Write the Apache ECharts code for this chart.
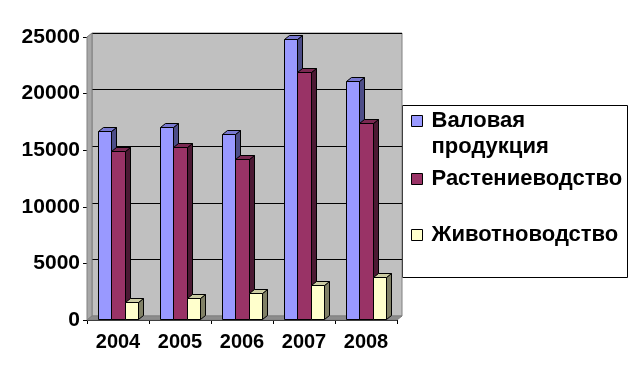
<!DOCTYPE html>
<html>
<head>
<meta charset="utf-8">
<script src="https://cdn.jsdelivr.net/npm/echarts@6/dist/echarts.min.js"></script>
<style>html,body{margin:0;padding:0;background:#fff}#c{width:633px;height:380px}</style>
</head>
<body>
<div id="c"></div>
<script>
var categories = ['2004', '2005', '2006', '2007', '2008'];
var seriesNames = ['Валовая продукция', 'Растениеводство', 'Животноводство'];
var valovaya = [16700, 17050, 16450, 24850, 21100];
var rastenie = [14950, 15250, 14200, 21900, 17400];
var zhivotno = [1550, 1950, 2350, 3100, 3800];
var yTicks = [0, 5000, 10000, 15000, 20000, 25000];

var FONT = 'Arial, "Liberation Sans", sans-serif';
var DX = 5, DY = 4;
var palette = [
  {front: '#9999FF', top: '#7878D0', side: '#4D4D88'},
  {front: '#993366', top: '#7A2952', side: '#4C1933'},
  {front: '#FFFFCC', top: '#CCCCA3', side: '#808066'}
];

function barRender(s) {
  return function (params, api) {
    var i = api.value(0), v = api.value(1);
    var base = api.coord([i, 0]);
    var top = api.coord([i, v]);
    var band = api.size([1, 0])[0];
    var w = band * 0.22;
    var x0 = Math.round(base[0] - 1.5 * w + s * w) + 0.5;
    var x1 = Math.round(base[0] - 1.5 * w + (s + 1) * w) + 0.5;
    var yt = Math.round(top[1]) + 0.5, yb = Math.round(base[1]) - 0.5;
    var c = palette[s];
    var st = {stroke: '#000', lineWidth: 1};
    return {
      type: 'group',
      children: [
        {type: 'polygon', shape: {points: [[x1, yt], [x1 + DX, yt - DY], [x1 + DX, yb - DY], [x1, yb]]},
          style: Object.assign({fill: c.side}, st)},
        {type: 'polygon', shape: {points: [[x0, yt], [x0 + DX, yt - DY], [x1 + DX, yt - DY], [x1, yt]]},
          style: Object.assign({fill: c.top}, st)},
        {type: 'rect', shape: {x: x0, y: yt, width: x1 - x0, height: yb - yt},
          style: Object.assign({fill: c.front}, st)}
      ]
    };
  };
}

function frameRender(params, api) {
  var band = api.size([1, 0])[0];
  var b0 = api.coord([0, 0]);
  var b4 = api.coord([categories.length - 1, 0]);
  var tp = api.coord([0, yTicks[yTicks.length - 1]]);
  var x0 = b0[0] - band / 2, x1 = b4[0] + band / 2;
  var y0 = b0[1], yt = tp[1];
  return {
    type: 'group',
    children: [
      {type: 'polygon', shape: {points: [[x0, yt], [x0 + DX, yt - DY], [x0 + DX, y0 - DY], [x0, y0]]},
        style: {fill: '#A8A8A8', stroke: '#808080', lineWidth: 1}},
      {type: 'polygon', shape: {points: [[x0, y0], [x0 + DX, y0 - DY], [x1 + DX, y0 - DY], [x1, y0]]},
        style: {fill: '#8C8C8C', stroke: '#808080', lineWidth: 1}}
    ]
  };
}

function toData(arr) { return arr.map(function (v, i) { return [i, v]; }); }
var allData = [valovaya, rastenie, zhivotno];

var series = [{
  type: 'custom', name: 'frame', xAxisIndex: 0, yAxisIndex: 0, z: 1,
  renderItem: frameRender, data: [[0, 0]], silent: true
}];
for (var s = 0; s < 3; s++) {
  series.push({
    type: 'custom', name: seriesNames[s], xAxisIndex: 0, yAxisIndex: 0, z: 2 + s,
    itemStyle: {color: palette[s].front},
    renderItem: barRender(s), encode: {x: 0, y: 1},
    data: toData(allData[s])
  });
}

var legendCommon = {
  orient: 'vertical', left: 411, padding: 0, icon: 'rect', itemWidth: 11, itemHeight: 11,
  itemStyle: {borderColor: '#000', borderWidth: 1}, selectedMode: false
};
function lg(name, top) {
  return Object.assign({}, legendCommon, {
    data: [name], top: top,
    textStyle: {fontFamily: FONT, fontWeight: 'bold', fontSize: 22, color: '#000', lineHeight: 26, padding: [0, 0, 0, 4]}
  });
}

var option = {
  backgroundColor: '#fff',
  animation: false,
  grid: [
    {left: 87, right: 236, top: 37, bottom: 60},
    {left: 92, right: 231, top: 33, bottom: 64, show: true, backgroundColor: '#C0C0C0', borderColor: '#808080', borderWidth: 1}
  ],
  xAxis: [
    {type: 'category', gridIndex: 0, data: categories,
      axisLine: {lineStyle: {color: '#000', width: 1}},
      axisTick: {show: true, length: 4, lineStyle: {color: '#000'}},
      axisLabel: {fontFamily: FONT, fontWeight: 'bold', fontSize: 20, color: '#000', margin: 12}},
    {type: 'category', gridIndex: 1, data: categories, show: false}
  ],
  yAxis: [
    {type: 'value', gridIndex: 0, min: yTicks[0], max: yTicks[yTicks.length - 1], interval: 5000,
      axisLine: {show: true, lineStyle: {color: '#000', width: 1}},
      axisTick: {show: true, length: 4, lineStyle: {color: '#000'}},
      splitLine: {show: false},
      axisLabel: {fontFamily: FONT, fontWeight: 'bold', fontSize: 21, color: '#000', margin: 7,
        formatter: function (v) { return String(v); }}},
    {type: 'value', gridIndex: 1, min: yTicks[0], max: yTicks[yTicks.length - 1], interval: 5000,
      axisLine: {show: false}, axisTick: {show: false}, axisLabel: {show: false},
      splitLine: {show: true, lineStyle: {color: '#000', width: 1}}}
  ],
  legend: [
    lg(seriesNames[0], 82),
    lg(seriesNames[1], 166),
    lg(seriesNames[2], 222)
  ],
  graphic: [
    {type: 'rect', left: 402, top: 105, shape: {width: 225, height: 172}, style: {fill: '#fff', stroke: '#000', lineWidth: 1}, z: -1}
  ],
  series: series
};
option.legend[0].formatter = function () { return ' \nВаловая\nпродукция'; };

var chart = echarts.init(document.getElementById('c'), null, {renderer: 'canvas'});
chart.setOption(option);
</script>
</body>
</html>
